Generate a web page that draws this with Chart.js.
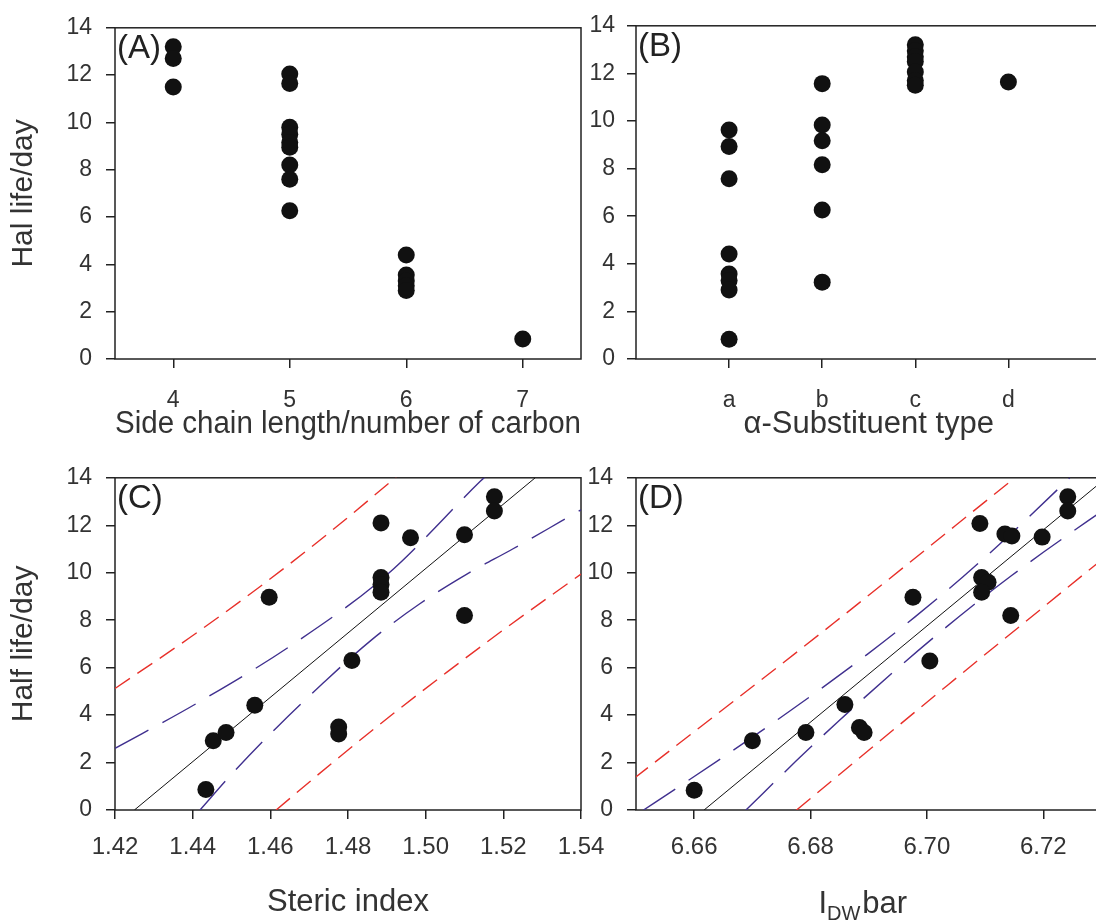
<!DOCTYPE html>
<html><head><meta charset="utf-8">
<script src="https://cdn.jsdelivr.net/npm/chart.js@4.4.0/dist/chart.umd.min.js"></script>
<style>
html,body{margin:0;padding:0;background:#fff;overflow:hidden;width:1096px;height:923px;}
.p{position:absolute;}
canvas{display:block;}
</style></head><body>
<div class="p" style="left:0;top:0;"><canvas id="cA" width="640" height="450"></canvas></div>
<div class="p" style="left:540px;top:0;"><canvas id="cB" width="570" height="450"></canvas></div>
<div class="p" style="left:0;top:450px;"><canvas id="cC" width="640" height="473"></canvas></div>
<div class="p" style="left:540px;top:450px;"><canvas id="cD" width="570" height="473"></canvas></div>
<script>
// ---------- data ----------
const yTicks = [0, 2, 4, 6, 8, 10, 12, 14];

// Panel A: side chain length
const aTicks = [4, 5, 6, 7];
const aCarbon   = [4, 4, 4, 5, 5, 5, 5, 5, 5, 5, 5, 5, 6, 6, 6, 6, 6, 7];
const aHalfLife = [13.2, 12.7, 11.5, 12.05, 11.65, 9.8, 9.5, 9.15, 8.95, 8.2, 7.6, 6.27, 4.4, 3.55, 3.3, 3.1, 2.9, 0.85];

// Panel B: alpha-substituent type
const bCategories = ['a', 'b', 'c', 'd'];
const bType     = ['a','a','a','a','a','a','a','a','b','b','b','b','b','b','c','c','c','c','c','c','c','d'];
const bHalfLife = [9.62, 8.93, 7.57, 4.41, 3.57, 3.3, 2.9, 0.83, 11.57, 9.83, 9.17, 8.16, 6.26, 3.23, 13.2, 12.95, 12.7, 12.5, 12.06, 11.7, 11.5, 11.64];

// Panel C: steric index
const cTicks = [1.42, 1.44, 1.46, 1.48, 1.50, 1.52, 1.54];
const cSteric   = [1.4434, 1.4453, 1.4486, 1.456, 1.4597, 1.4776, 1.4776, 1.481, 1.4885, 1.4885, 1.4885, 1.4885, 1.4961, 1.51, 1.51, 1.5177, 1.5177];
const cHalfLife = [0.86, 2.92, 3.27, 4.41, 8.97, 3.5, 3.2, 6.3, 12.1, 9.8, 9.5, 9.18, 11.47, 11.6, 8.2, 13.2, 12.6];
const cFitX = [1.425, 1.5282];
const cFitY = [0, 14];
const cConfUpX = [1.42, 1.441, 1.4655, 1.49, 1.514, 1.516];
const cConfUpY = [2.6, 4.49, 6.95, 9.91, 13.84, 14.15];
const cConfLoX = [1.4419, 1.45, 1.4616, 1.4736, 1.486, 1.4984, 1.5104, 1.5224, 1.5348, 1.54];
const cConfLoY = [0, 1.5, 3.47, 5.35, 7.16, 8.68, 9.92, 11.0, 12.16, 12.65];
const cPredUpX = [1.42, 1.4393, 1.4582, 1.4754, 1.4925];
const cPredUpY = [5.12, 7.27, 9.52, 11.72, 14.04];
const cPredLoX = [1.4615, 1.4762, 1.4908, 1.5054, 1.52, 1.54];
const cPredLoY = [0, 2.02, 3.95, 5.8, 7.59, 9.94];

// Panel D: I_DW bar
const dTicks = [6.66, 6.68, 6.70, 6.72];
const dIdw      = [6.66, 6.67, 6.6792, 6.6859, 6.6884, 6.6892, 6.6976, 6.7005, 6.7091, 6.7094, 6.7105, 6.7094, 6.7134, 6.7146, 6.7198, 6.7144, 6.7242, 6.7242];
const dHalfLife = [0.83, 2.92, 3.27, 4.45, 3.48, 3.27, 8.97, 6.28, 12.07, 9.8, 9.6, 9.18, 11.63, 11.55, 11.5, 8.2, 13.2, 12.6];
const dFitX = [6.6617, 6.73];
const dFitY = [0, 13.83];
const dConfUpX = [6.6513, 6.6571, 6.6651, 6.6732, 6.6815, 6.6898, 6.6979, 6.7062, 6.7143, 6.7223, 6.7246];
const dConfUpY = [0, 0.94, 2.25, 3.61, 5.06, 6.57, 8.13, 9.83, 11.61, 13.47, 14.02];
const dConfLoX = [6.6689, 6.6775, 6.6847, 6.6941, 6.7016, 6.7079, 6.7145, 6.72, 6.7246, 6.7291];
const dConfLoY = [0, 2.06, 3.72, 5.79, 7.36, 8.62, 9.87, 10.86, 11.66, 12.43];
const dPredUpX = [6.6496, 6.6841, 6.7151];
const dPredUpY = [1.32, 7.9, 14.0];
const dPredLoX = [6.6776, 6.7035, 6.7291];
const dPredLoY = [0, 5.25, 10.36];

// ---------- helpers ----------
const FONT = '"Liberation Sans", Arial, sans-serif';
const TXT = '#333';
const AX = '#222';
const zip = (xs, ys) => xs.map((x, i) => ({x: x, y: ys[i]}));

const framePlugin = {
  id: 'frame',
  beforeDatasetsDraw(chart, args, opts) {
    const {ctx, chartArea: {left, top, right, bottom}} = chart;
    ctx.save();
    ctx.strokeStyle = AX; ctx.lineWidth = 1.5;
    ctx.strokeRect(left, top, right - left, bottom - top);
    ctx.fillStyle = '#222';
    ctx.font = '33px ' + FONT;
    ctx.textBaseline = 'top'; ctx.textAlign = 'left';
    ctx.fillText(opts.label, left + 2, top + 5);
    ctx.restore();
  }
};

const idwTitle = {
  id: 'idwTitle',
  afterDraw(chart, args, opts) {
    if (!opts.on) return;
    const {ctx, chartArea: {left, right}} = chart;
    ctx.save();
    ctx.fillStyle = TXT; ctx.textBaseline = 'alphabetic'; ctx.textAlign = 'left';
    const big = '31px ' + FONT, small = '20px ' + FONT;
    ctx.font = big; const w1 = ctx.measureText('I').width, w3 = ctx.measureText('bar').width;
    ctx.font = small; const w2 = ctx.measureText('DW').width;
    const total = w1 + w2 + w3 + 2;
    let x = (left + right) / 2 - total / 2 - 6;
    const base = chart.height - 10;
    ctx.font = big; ctx.fillText('I', x, base); x += w1;
    ctx.font = small; ctx.fillText('DW', x, base + 7); x += w2 + 2;
    ctx.font = big; ctx.fillText('bar', x, base);
    ctx.restore();
  }
};

function yScale(width, pad, title) {
  return {
    type: 'linear', min: 0, max: 14,
    afterBuildTicks: s => { s.ticks = yTicks.map(v => ({value: v})); },
    afterFit: s => { s.width = width; },
    grid: {drawOnChartArea: false, drawTicks: true, tickLength: 9, color: AX, lineWidth: 1.5},
    border: {display: false},
    ticks: {padding: pad, color: TXT, autoSkip: false, font: {family: FONT, size: 23}},
    title: {display: !!title, text: title || '', color: TXT, font: {family: FONT, size: 30}, padding: {top: 6, bottom: 0}}
  };
}
function xScale(min, max, ticks, fmt, height, pad, title, titlePad, fs) {
  return {
    type: 'linear', min: min, max: max,
    afterBuildTicks: s => { s.ticks = ticks.map(v => ({value: v})); },
    afterFit: s => { s.height = height; },
    grid: {drawOnChartArea: false, drawTicks: true, tickLength: 9, color: AX, lineWidth: 1.5},
    border: {display: false},
    ticks: {padding: pad, color: TXT, autoSkip: false, maxRotation: 0, font: {family: FONT, size: fs}, callback: fmt},
    title: {display: !!title, text: title || '', color: TXT, font: {family: FONT, size: 31}, padding: {top: 0, bottom: titlePad}}
  };
}
const ptsDs = data => ({data: data, pointRadius: 8.5, pointHoverRadius: 8.5, pointBorderWidth: 0, pointBackgroundColor: '#111', showLine: false});
const lineDs = (data, color, dash, w) => ({data: data, showLine: true, pointRadius: 0, borderColor: color, borderWidth: w, borderDash: dash, cubicInterpolationMode: 'monotone', fill: false});

function make(id, datasets, scales, padding, label, idw) {
  new Chart(document.getElementById(id), {
    type: 'scatter',
    data: {datasets: datasets},
    options: {
      responsive: false, animation: false, events: [],
      layout: {padding: padding},
      plugins: {legend: {display: false}, tooltip: {enabled: false}, frame: {label: label}, idwTitle: {on: !!idw}},
      scales: scales
    },
    plugins: [framePlugin, idwTitle]
  });
}

const BLUE = '#40308f', RED = '#e8302a', BLK = '#111';

// A
make('cA', [ptsDs(zip(aCarbon, aHalfLife))], {
  x: xScale(3.5, 7.5, aTicks, v => String(v), 91, 19, 'Side chain length/number of carbon', 7, 23),
  y: yScale(115, 14, 'Hal life/day')
}, {top: 23, right: 59, left: 0, bottom: 0}, '(A)');

// B
make('cB', [ptsDs(bType.map((t, i) => ({x: bCategories.indexOf(t) + 1, y: bHalfLife[i]})))], {
  x: xScale(0, 5, [1, 2, 3, 4], v => bCategories[v - 1], 91, 19, '\u03B1-Substituent type', 7, 23),
  y: yScale(96, 12, '')
}, {top: 23, right: 8, left: 0, bottom: 0}, '(B)');

// C
make('cC', [
  ptsDs(zip(cSteric, cHalfLife)),
  lineDs(zip(cFitX, cFitY), BLK, [], 1),
  lineDs(zip(cConfUpX, cConfUpY), BLUE, [38, 16], 1.4),
  lineDs(zip(cConfLoX, cConfLoY), BLUE, [38, 16], 1.4),
  lineDs(zip(cPredUpX, cPredUpY), RED, [18, 9], 1.4),
  lineDs(zip(cPredLoX, cPredLoY), RED, [18, 9], 1.4)
], {
  x: xScale(1.42, 1.54, cTicks, v => v.toFixed(2), 113, 14, 'Steric index', 2, 24),
  y: yScale(115, 14, 'Half life/day')
}, {top: 24, right: 59, left: 0, bottom: 0}, '(C)');

// D
make('cD', [
  ptsDs(zip(dIdw, dHalfLife)),
  lineDs(zip(dFitX, dFitY), BLK, [], 1),
  lineDs(zip(dConfUpX, dConfUpY), BLUE, [38, 16], 1.4),
  lineDs(zip(dConfLoX, dConfLoY), BLUE, [38, 16], 1.4),
  lineDs(zip(dPredUpX, dPredUpY), RED, [18, 9], 1.4),
  lineDs(zip(dPredLoX, dPredLoY), RED, [18, 9], 1.4)
], {
  x: xScale(6.65, 6.73, dTicks, v => v.toFixed(2), 113, 14, '', 2, 24),
  y: yScale(96, 14, '')
}, {top: 24, right: 8, left: 0, bottom: 0}, '(D)', true);
</script>
</body></html>
